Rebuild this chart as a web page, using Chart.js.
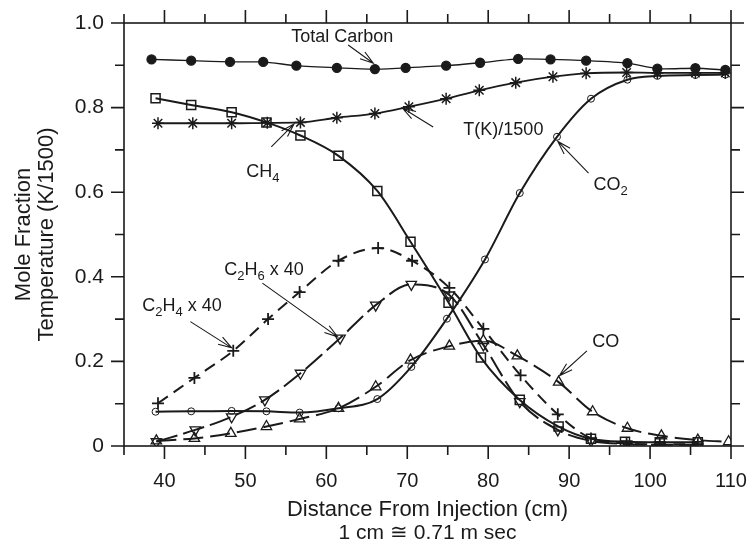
<!DOCTYPE html>
<html>
<head>
<meta charset="utf-8">
<script src="https://cdn.jsdelivr.net/npm/chart.js@4.4.1/dist/chart.umd.min.js"></script>
<style>
  html, body { margin: 0; padding: 0; background: #fff; }
  #Chart { display: block; }
</style>
</head>
<body>
<canvas id="Chart" width="751" height="547"></canvas>
<script>
// values (x in cm, y as mole fraction / T/1500)
const carbonX = [38.4, 43.3, 48.1, 52.2, 56.3, 61.3, 66.0, 69.8, 74.8, 79.0, 83.7, 87.7, 92.1, 97.2, 100.9, 105.6, 109.3];
const carbonY = [0.914, 0.911, 0.908, 0.908, 0.899, 0.894, 0.891, 0.894, 0.899, 0.906, 0.915, 0.914, 0.911, 0.905, 0.892, 0.893, 0.889];

const tempX = [39.2, 43.5, 48.3, 52.7, 56.8, 61.3, 66.0, 70.2, 74.8, 78.9, 83.4, 88.0, 92.1, 97.1, 100.9, 105.6, 109.3];
const tempY = [0.763, 0.763, 0.763, 0.764, 0.765, 0.776, 0.786, 0.802, 0.821, 0.841, 0.859, 0.873, 0.881, 0.883, 0.882, 0.882, 0.882];

const ch4X = [38.9, 43.3, 48.3, 52.6, 56.8, 61.5, 66.3, 70.4, 75.1, 79.1, 83.9, 88.7, 92.7, 96.9, 101.2, 105.9];
const ch4Y = [0.822, 0.806, 0.789, 0.765, 0.734, 0.686, 0.603, 0.483, 0.339, 0.209, 0.109, 0.046, 0.017, 0.010, 0.009, 0.009];

const co2X = [38.9, 43.3, 48.3, 52.6, 56.7, 61.5, 66.3, 70.5, 74.9, 79.6, 83.9, 88.5, 92.7, 97.2, 100.9, 105.6, 109.3];
const co2Y = [0.081, 0.082, 0.083, 0.082, 0.079, 0.089, 0.111, 0.187, 0.301, 0.441, 0.598, 0.731, 0.821, 0.866, 0.875, 0.877, 0.878];

const c2h4X = [39.2, 43.7, 48.5, 52.8, 56.7, 61.5, 66.4, 70.6, 75.2, 79.4, 84.0, 88.6, 92.7, 97.1, 101.2, 105.9];
const c2h4Y = [0.101, 0.161, 0.225, 0.300, 0.364, 0.438, 0.468, 0.438, 0.374, 0.277, 0.167, 0.075, 0.018, 0.006, 0.004, 0.004];

const c2h6X = [39.0, 43.8, 48.3, 52.4, 56.8, 61.7, 66.1, 70.5, 75.2, 79.4, 83.9, 88.6, 92.7, 97.1, 101.2, 105.9];
const c2h6Y = [0.010, 0.038, 0.069, 0.109, 0.172, 0.255, 0.333, 0.382, 0.357, 0.239, 0.105, 0.038, 0.012, 0.005, 0.003, 0.003];

const coX = [39.0, 43.7, 48.2, 52.6, 56.7, 61.5, 66.1, 70.4, 75.2, 79.4, 83.6, 88.7, 92.9, 97.2, 101.4, 105.9, 109.7];
const coY = [0.012, 0.018, 0.030, 0.046, 0.064, 0.089, 0.140, 0.203, 0.236, 0.249, 0.213, 0.151, 0.081, 0.042, 0.024, 0.014, 0.010];

const xTicks = [40, 50, 60, 70, 80, 90, 100, 110];
const yTicks = [0, 0.2, 0.4, 0.6, 0.8, 1.0];

const FONT = '"Liberation Sans", Arial, Helvetica, sans-serif';
const INK = '#1a1a1a';

function pts(xs, ys) {
    return xs.map((x, i) => ({ x: x, y: ys[i] }));
}

// label text + arrow (tail -> head), in data units
const notes = [
    { parts: [["Total Carbon"]], at: [55.67, 0.954], tail: [62.7, 0.948], head: [65.8, 0.905] },
    { parts: [["T(K)/1500"]], at: [76.93, 0.736], tail: [73.2, 0.754], head: [69.4, 0.799] },
    { parts: [["CH"], ["4", 1]], at: [50.10, 0.637], tail: [53.2, 0.707], head: [56.0, 0.761] },
    { parts: [["CO"], ["2", 1]], at: [93.0, 0.606], tail: [92.4, 0.645], head: [88.6, 0.72] },
    { parts: [["C"], ["2", 1], ["H"], ["6", 1], [" x 40"]], at: [47.39, 0.405], tail: [52.1, 0.385], head: [61.4, 0.258] },
    { parts: [["C"], ["2", 1], ["H"], ["4", 1], [" x 40"]], at: [37.25, 0.320], tail: [43.2, 0.294], head: [48.3, 0.232] },
    { parts: [["CO"]], at: [92.87, 0.233], tail: [92.2, 0.225], head: [88.8, 0.166] },
];

const framePlugin = {
    id: 'frame',
    afterDraw(chart) {
        const ctx = chart.ctx;
        const xs = chart.scales.x, ys = chart.scales.y;
        const a = chart.chartArea;
        ctx.save();
        ctx.strokeStyle = INK;
        ctx.lineWidth = 1.6;
        ctx.strokeRect(a.left, a.top, a.right - a.left, a.bottom - a.top);

        ctx.beginPath();
        for (let v = 35; v <= 110; v += 5) {
            const px = xs.getPixelForValue(v);
            const len = v % 10 === 0 ? 13 : 9;
            ctx.moveTo(px, a.bottom); ctx.lineTo(px, a.bottom + len);
            ctx.moveTo(px, a.top); ctx.lineTo(px, a.top - len);
        }
        for (let i = 0; i <= 10; i++) {
            const py = ys.getPixelForValue(i / 10);
            const len = i % 2 === 0 ? 13 : 9;
            ctx.moveTo(a.left, py); ctx.lineTo(a.left - len, py);
            ctx.moveTo(a.right, py); ctx.lineTo(a.right + len, py);
        }
        ctx.stroke();

        // axis titles
        ctx.fillStyle = INK;
        ctx.textAlign = 'center';
        ctx.textBaseline = 'alphabetic';
        ctx.font = '22px ' + FONT;
        const midX = (a.left + a.right) / 2;
        ctx.fillText('Distance From Injection (cm)', midX, 516);
        ctx.font = '21px ' + FONT;
        ctx.fillText('1 cm \u2245 0.71 m sec', midX, 539);

        const midY = (a.top + a.bottom) / 2;
        ctx.font = '22px ' + FONT;
        ctx.save();
        ctx.translate(30, midY);
        ctx.rotate(-Math.PI / 2);
        ctx.fillText('Mole Fraction', 0, 0);
        ctx.restore();
        ctx.save();
        ctx.translate(53, midY);
        ctx.rotate(-Math.PI / 2);
        ctx.fillText('Temperature (K/1500)', 0, 0);
        ctx.restore();

        // annotations
        ctx.textAlign = 'left';
        ctx.lineWidth = 1.1;
        notes.forEach(n => {
            let x = xs.getPixelForValue(n.at[0]);
            const y = ys.getPixelForValue(n.at[1]);
            n.parts.forEach(p => {
                ctx.font = (p[1] ? '13px ' : '18px ') + FONT;
                ctx.fillText(p[0], x, p[1] ? y + 5 : y);
                x += ctx.measureText(p[0]).width;
            });
            const tx = xs.getPixelForValue(n.tail[0]), ty = ys.getPixelForValue(n.tail[1]);
            const hx = xs.getPixelForValue(n.head[0]), hy = ys.getPixelForValue(n.head[1]);
            const ang = Math.atan2(hy - ty, hx - tx);
            const hl = 14, spread = 0.3;
            ctx.beginPath();
            ctx.moveTo(tx, ty); ctx.lineTo(hx, hy);
            ctx.moveTo(hx - hl * Math.cos(ang - spread), hy - hl * Math.sin(ang - spread));
            ctx.lineTo(hx, hy);
            ctx.lineTo(hx - hl * Math.cos(ang + spread), hy - hl * Math.sin(ang + spread));
            ctx.stroke();
        });
        ctx.restore();
    }
};

const hollow = 'rgba(0,0,0,0)';

const data = {
    datasets: [
        {
            label: 'Total Carbon', data: pts(carbonX, carbonY),
            borderColor: INK, borderWidth: 1.3, tension: 0.2,
            pointStyle: 'circle', pointRadius: 4.5, pointBackgroundColor: INK, pointBorderColor: INK,
        },
        {
            label: 'T(K)/1500', data: pts(tempX, tempY),
            borderColor: INK, borderWidth: 1.8, cubicInterpolationMode: 'monotone',
            pointStyle: 'star', pointRadius: 6, pointBorderColor: INK, pointBorderWidth: 1.5,
        },
        {
            label: 'CH4', data: pts(ch4X, ch4Y),
            borderColor: INK, borderWidth: 2, cubicInterpolationMode: 'monotone',
            pointStyle: 'rect', pointRadius: 6.4, pointBackgroundColor: hollow, pointBorderColor: INK, pointBorderWidth: 1.5,
        },
        {
            label: 'CO2', data: pts(co2X, co2Y),
            borderColor: INK, borderWidth: 2, cubicInterpolationMode: 'monotone',
            pointStyle: 'circle', pointRadius: 3.5, pointBackgroundColor: hollow, pointBorderColor: INK, pointBorderWidth: 1,
        },
        {
            label: 'C2H4 x 40', data: pts(c2h4X, c2h4Y),
            borderColor: INK, borderWidth: 2, borderDash: [12, 7], cubicInterpolationMode: 'monotone',
            pointStyle: 'cross', pointRadius: 6, pointBorderColor: INK, pointBorderWidth: 1.8,
        },
        {
            label: 'C2H6 x 40', data: pts(c2h6X, c2h6Y),
            borderColor: INK, borderWidth: 2, borderDash: [22, 6], cubicInterpolationMode: 'monotone',
            pointStyle: 'triangle', rotation: 180, pointRadius: 6, pointBackgroundColor: hollow, pointBorderColor: INK, pointBorderWidth: 1.3,
        },
        {
            label: 'CO', data: pts(coX, coY),
            borderColor: INK, borderWidth: 2, borderDash: [20, 7], cubicInterpolationMode: 'monotone',
            pointStyle: 'triangle', pointRadius: 6, pointBackgroundColor: hollow, pointBorderColor: INK, pointBorderWidth: 1.3,
        },
    ],
};

const config = {
    type: 'line',
    data: data,
    plugins: [framePlugin],
    options: {
        responsive: false,
        animation: false,
        devicePixelRatio: 1,
        layout: { padding: { top: 23, right: 20, left: 0, bottom: 0 } },
        plugins: { legend: { display: false }, tooltip: { enabled: false } },
        scales: {
            x: {
                type: 'linear', min: 35, max: 110,
                grid: { display: false }, border: { display: false },
                afterFit: s => { s.height = 101; s.paddingLeft = 0; s.paddingRight = 0; },
                afterBuildTicks: s => { s.ticks = xTicks.map(v => ({ value: v })); },
                ticks: { color: INK, padding: 15, maxRotation: 0, autoSkip: false, font: { family: FONT, size: 20 } },
            },
            y: {
                type: 'linear', min: 0, max: 1,
                grid: { display: false }, border: { display: false },
                afterFit: s => { s.width = 124; s.paddingTop = 0; s.paddingBottom = 0; },
                afterBuildTicks: s => { s.ticks = yTicks.map(v => ({ value: v })); },
                ticks: {
                    color: INK, padding: 12, font: { family: FONT, size: 21 },
                    callback: v => v === 0 ? '0' : v.toFixed(1),
                },
            },
        },
    },
};

const myChart = new Chart(document.getElementById('Chart'), config);
</script>
</body>
</html>
